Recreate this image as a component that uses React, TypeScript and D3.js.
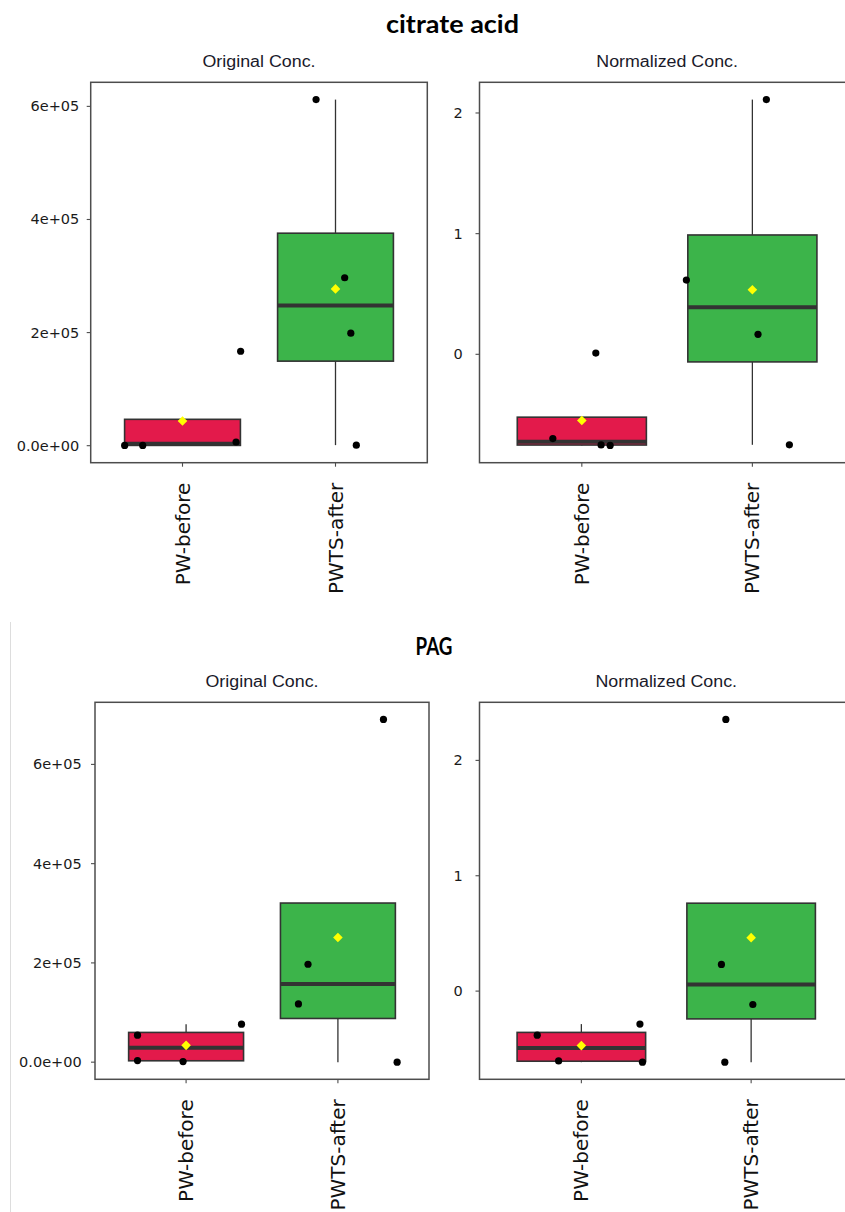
import React from "react";
import * as d3 from "d3";

// ---------- data ----------
const groups = ["PW-before", "PWTS-after"];
const compoundTitles = ["citrate acid", "PAG"];
const panelTitles = ["Original Conc.", "Normalized Conc."];

const citrateOrigBefore = [500, 500, 6500, 167000];
const citrateOrigBeforeJitter = [-0.378, -0.26, 0.35, 0.38];
const citrateOrigAfter = [612000, 297000, 199000, 1000];
const citrateOrigAfterJitter = [-0.127, 0.06, 0.1, 0.136];

const citrateNormBefore = [-0.698, -0.751, -0.755, 0.01];
const citrateNormBeforeJitter = [-0.17, 0.113, 0.166, 0.082];
const citrateNormAfter = [2.111, 0.615, 0.166, -0.75];
const citrateNormAfterJitter = [0.082, -0.387, 0.033, 0.217];

const pagOrigBefore = [54400, 3300, 1200, 76500];
const pagOrigBeforeJitter = [-0.32, -0.32, -0.02, 0.365];
const pagOrigAfter = [690600, 197300, 117400, 0];
const pagOrigAfterJitter = [0.3, -0.197, -0.26, 0.39];

const pagNormBefore = [-0.382, -0.605, -0.286, -0.616];
const pagNormBeforeJitter = [-0.26, -0.134, 0.345, 0.36];
const pagNormAfter = [2.355, 0.231, -0.116, -0.616];
const pagNormAfterJitter = [-0.149, -0.175, 0.01, -0.155];

const origTicks = [0, 200000, 400000, 600000];
const origTickLabels = ["0.0e+00", "2e+05", "4e+05", "6e+05"];
const normTicks = [0, 1, 2];
const normTickLabels = ["0", "1", "2"];

const groupColors = ["#E31A4B", "#3CB44A"];

// ---------- helpers ----------
function boxStats(values: number[]) {
  const s = values.slice().sort(d3.ascending);
  const q1 = d3.quantile(s, 0.25) as number;
  const med = d3.quantile(s, 0.5) as number;
  const q3 = d3.quantile(s, 0.75) as number;
  const iqr = q3 - q1;
  const lo = d3.min(s.filter((v) => v >= q1 - 1.5 * iqr)) as number;
  const hi = d3.max(s.filter((v) => v <= q3 + 1.5 * iqr)) as number;
  const mean = d3.mean(s) as number;
  return { q1, med, q3, lo, hi, mean };
}

type PanelProps = {
  x0: number;
  x1: number;
  y0: number;
  y1: number;
  labelGap: number;
  title: string;
  series: number[][];
  jitters: number[][];
  ticks: number[];
  tickLabels: string[];
  titleLen: number;
};

function Panel(p: PanelProps) {
  const all = p.series.flat();
  const [mn, mx] = d3.extent(all) as [number, number];
  const pad = (mx - mn) * 0.05;
  const y = d3.scaleLinear().domain([mn - pad, mx + pad]).range([p.y1, p.y0]);
  const x = d3.scaleLinear().domain([0.4, 2.6]).range([p.x0, p.x1]);
  const boxW = 0.757;
  const ink = "#333333";

  return (
    <g>
      <text
        x={(p.x0 + p.x1) / 2}
        y={p.y0 - 15}
        textAnchor="middle"
        fontFamily="'Liberation Sans Narrow', 'Liberation Sans', Arial, sans-serif"
        fontSize={16}
        fill="#1a1a2a"
        textLength={p.titleLen}
        lengthAdjust="spacingAndGlyphs"
      >
        {p.title}
      </text>
      {p.series.map((vals, gi) => {
        const st = boxStats(vals);
        const cx = x(gi + 1);
        const left = x(gi + 1 - boxW / 2);
        const right = x(gi + 1 + boxW / 2);
        return (
          <g key={"b" + gi}>
            {st.hi > st.q3 && (
              <line x1={cx} x2={cx} y1={y(st.q3)} y2={y(st.hi)} stroke={ink} strokeWidth={1.3} />
            )}
            {st.lo < st.q1 && (
              <line x1={cx} x2={cx} y1={y(st.q1)} y2={y(st.lo)} stroke={ink} strokeWidth={1.3} />
            )}
            <rect
              x={left}
              y={y(st.q3)}
              width={right - left}
              height={y(st.q1) - y(st.q3)}
              fill={groupColors[gi]}
              stroke={ink}
              strokeWidth={1.6}
            />
            <line x1={left} x2={right} y1={y(st.med)} y2={y(st.med)} stroke={ink} strokeWidth={4} />
          </g>
        );
      })}
      {p.series.map((vals, gi) =>
        vals.map((v, i) => (
          <circle
            key={"p" + gi + "-" + i}
            cx={x(gi + 1 + p.jitters[gi][i])}
            cy={y(v)}
            r={3.6}
            fill="#000"
          />
        ))
      )}
      {p.series.map((vals, gi) => {
        const st = boxStats(vals);
        const cx = x(gi + 1);
        const cy = y(st.mean);
        const h = 4.8;
        return (
          <polygon
            key={"m" + gi}
            points={`${cx},${cy - h} ${cx + h},${cy} ${cx},${cy + h} ${cx - h},${cy}`}
            fill="#FFFF00"
          />
        );
      })}
      <rect
        x={p.x0}
        y={p.y0}
        width={p.x1 - p.x0}
        height={p.y1 - p.y0}
        fill="none"
        stroke="#4d4d4d"
        strokeWidth={1.5}
      />
      {p.ticks.map((t, i) => (
        <g key={"yt" + i}>
          <line x1={p.x0 - 4} x2={p.x0} y1={y(t)} y2={y(t)} stroke="#4d4d4d" strokeWidth={1.1} />
          <text
            x={p.x0 - p.labelGap}
            y={y(t)}
            textAnchor="end"
            dominantBaseline="central"
            fontFamily="'DejaVu Sans', sans-serif"
            fontSize={14.5}
            fill="#1a1a1a"
          >
            {p.tickLabels[i]}
          </text>
        </g>
      ))}
      {groups.map((g, gi) => (
        <g key={"xt" + gi}>
          <line x1={x(gi + 1)} x2={x(gi + 1)} y1={p.y1} y2={p.y1 + 4} stroke="#4d4d4d" strokeWidth={1.1} />
          <text
            transform={`translate(${x(gi + 1)},${p.y1 + 20}) rotate(-90)`}
            textAnchor="end"
            dominantBaseline="central"
            fontFamily="'DejaVu Sans', sans-serif"
            fontSize={20}
            fill="#111"
          >
            {g}
          </text>
        </g>
      ))}
    </g>
  );
}

export default function App() {
  const titleFont = "Lato, 'Open Sans', sans-serif";
  return (
    <svg
      width={845}
      height={1212}
      style={{ position: "absolute", left: 0, top: 0, background: "#fff" }}
    >
      <rect x={0} y={0} width={845} height={1212} fill="#fff" />
      <line x1={10.5} x2={10.5} y1={622} y2={1212} stroke="#dddddd" strokeWidth={1} />

      <text
        x={452.5}
        y={33}
        textAnchor="middle"
        fontFamily={titleFont}
        fontWeight="bold"
        fontSize={25}
        fill="#000"
        textLength={133}
        lengthAdjust="spacingAndGlyphs"
      >
        {compoundTitles[0]}
      </text>
      <text
        x={434}
        y={655}
        textAnchor="middle"
        fontFamily={titleFont}
        fontWeight="bold"
        fontSize={25}
        fill="#000"
        textLength={37}
        lengthAdjust="spacingAndGlyphs"
      >
        {compoundTitles[1]}
      </text>

      <Panel
        x0={90.7}
        x1={427.3}
        y0={82.3}
        y1={462.7}
        labelGap={11.4}
        title={panelTitles[0]}
        titleLen={113}
        series={[citrateOrigBefore, citrateOrigAfter]}
        jitters={[citrateOrigBeforeJitter, citrateOrigAfterJitter]}
        ticks={origTicks}
        tickLabels={origTickLabels}
      />
      <Panel
        x0={479.5}
        x1={854.7}
        y0={82.3}
        y1={462.7}
        labelGap={16.8}
        title={panelTitles[1]}
        titleLen={141.6}
        series={[citrateNormBefore, citrateNormAfter]}
        jitters={[citrateNormBeforeJitter, citrateNormAfterJitter]}
        ticks={normTicks}
        tickLabels={normTickLabels}
      />
      <Panel
        x0={95}
        x1={429}
        y0={702.3}
        y1={1079.3}
        labelGap={13.3}
        title={panelTitles[0]}
        titleLen={113}
        series={[pagOrigBefore, pagOrigAfter]}
        jitters={[pagOrigBeforeJitter, pagOrigAfterJitter]}
        ticks={origTicks}
        tickLabels={origTickLabels}
      />
      <Panel
        x0={479.5}
        x1={853}
        y0={702.3}
        y1={1079.3}
        labelGap={16.8}
        title={panelTitles[1]}
        titleLen={141.6}
        series={[pagNormBefore, pagNormAfter]}
        jitters={[pagNormBeforeJitter, pagNormAfterJitter]}
        ticks={normTicks}
        tickLabels={normTickLabels}
      />
    </svg>
  );
}
